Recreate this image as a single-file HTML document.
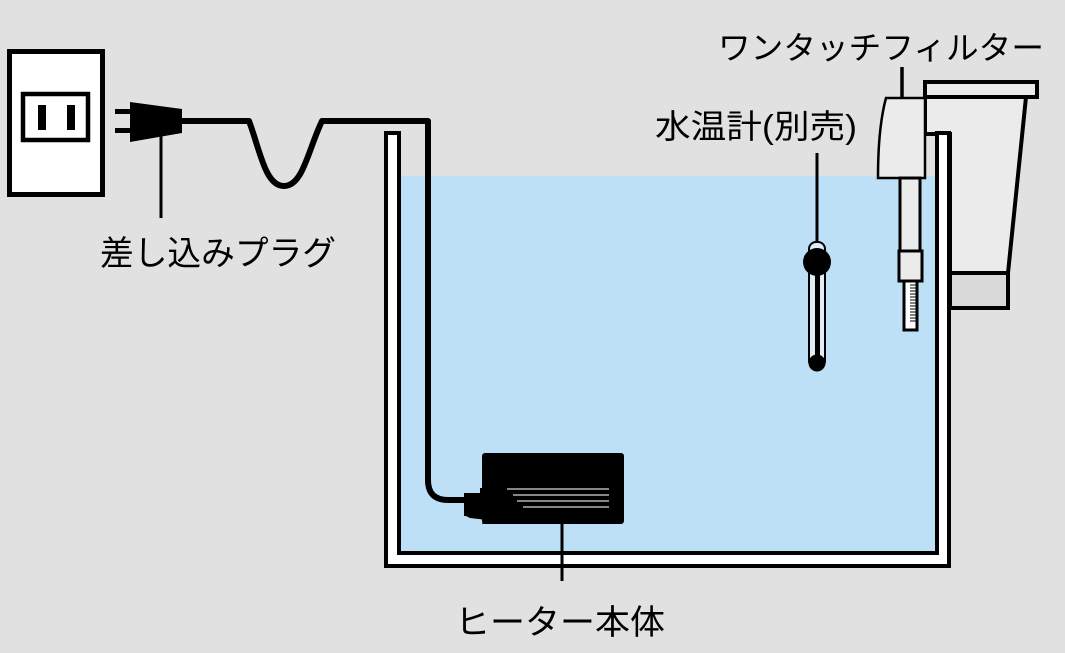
<!DOCTYPE html>
<html><head><meta charset="utf-8"><style>
html,body{margin:0;padding:0;background:#e1e1e1;}
svg{display:block;}
text{font-family:"Liberation Sans","Noto Sans CJK JP",sans-serif;fill:#000;}
</style></head><body>
<svg width="1065" height="653" viewBox="0 0 1065 653" xmlns="http://www.w3.org/2000/svg">
<rect width="1065" height="653" fill="#e1e1e1"/>
<!-- water -->
<rect x="399" y="176" width="538" height="378" fill="#bde0f7"/>
<!-- filter box -->
<polygon points="925,97 1026,97 1008,273 950,273 950,134 925,134" fill="#ebebeb" stroke="#000" stroke-width="4"/>
<rect x="950" y="273" width="58" height="35" fill="#d9d9d9" stroke="#000" stroke-width="4"/>
<rect x="925" y="82" width="112" height="15" fill="#ebebeb" stroke="#000" stroke-width="4"/>
<!-- tank walls -->
<polygon points="386,133 399,133 399,553 937,553 937,133 949,133 949,566 386,566" fill="#fff" stroke="#000" stroke-width="4"/>
<!-- outlet -->
<rect x="9.5" y="51.5" width="93" height="143" fill="#fff" stroke="#000" stroke-width="5"/>
<rect x="23" y="94" width="65" height="46" fill="#fff" stroke="#000" stroke-width="4.5"/>
<rect x="38" y="105" width="8" height="25" fill="#000"/>
<rect x="67" y="105" width="8" height="25" fill="#000"/>
<!-- plug -->
<rect x="115" y="109" width="17" height="5" fill="#000"/>
<rect x="115" y="128" width="17" height="5" fill="#000"/>
<polygon points="130,102 182,109 182,133 130,142" fill="#000"/>
<line x1="161" y1="135" x2="161" y2="218" stroke="#000" stroke-width="3"/>
<!-- cable -->
<path d="M180,121 L249,121 C260,150 265,186 284,186 C303,186 308,150 322,121 L428,121 L428,480 Q428,500 448,500 L470,500" fill="none" stroke="#000" stroke-width="6" stroke-linejoin="round"/>
<!-- heater -->
<rect x="482" y="453" width="142" height="71" rx="3" fill="#000"/>
<polygon points="466,493 480,493 480,488 500,488 500,498 520,518 520,524 470,518 466,516" fill="#000"/>
<rect x="464" y="493" width="20" height="23" fill="#000"/>
<rect x="480" y="489" width="40" height="29" fill="#000"/>
<polygon points="500,480 520,520 520,524 482,524" fill="#000"/>
<g stroke="#9a9a9a" stroke-width="1.8">
<line x1="507" y1="489" x2="609" y2="489"/>
<line x1="513" y1="495" x2="609" y2="495"/>
<line x1="517" y1="501" x2="609" y2="501"/>
<line x1="523" y1="507" x2="609" y2="507"/>
</g>
<line x1="562" y1="524" x2="562" y2="581" stroke="#000" stroke-width="3"/>
<!-- thermometer -->
<line x1="817" y1="153" x2="817" y2="244" stroke="#000" stroke-width="3"/>
<rect x="809" y="242" width="16" height="126" rx="7" fill="#ddeef9" stroke="#000" stroke-width="2"/>
<rect x="815" y="262" width="5" height="100" fill="#000"/>
<circle cx="817" cy="262" r="14" fill="#000"/>
<circle cx="817" cy="363" r="8.5" fill="#000"/>
<!-- filter head & tube -->
<line x1="902" y1="67" x2="902" y2="99" stroke="#000" stroke-width="3.5"/>
<path d="M886,98 L925,98 L925,178 L878,178 C878,150 880,120 886,98 Z" fill="#ebebeb" stroke="#000" stroke-width="2.5"/>
<rect x="900" y="178" width="20" height="74" fill="#ebebeb" stroke="#000" stroke-width="3"/>
<rect x="899" y="251" width="23" height="30" fill="#ebebeb" stroke="#000" stroke-width="3"/>
<rect x="904" y="281" width="13" height="49" fill="#fff" stroke="#000" stroke-width="3"/>
<g stroke="#000" stroke-width="1">
<line x1="910" y1="285" x2="916" y2="285"/><line x1="910" y1="288" x2="916" y2="288"/><line x1="910" y1="291" x2="916" y2="291"/><line x1="910" y1="294" x2="916" y2="294"/><line x1="910" y1="297" x2="916" y2="297"/><line x1="910" y1="300" x2="916" y2="300"/><line x1="910" y1="303" x2="916" y2="303"/><line x1="910" y1="306" x2="916" y2="306"/><line x1="910" y1="309" x2="916" y2="309"/><line x1="910" y1="312" x2="916" y2="312"/><line x1="910" y1="315" x2="916" y2="315"/><line x1="910" y1="318" x2="916" y2="318"/><line x1="910" y1="321" x2="916" y2="321"/>
</g>
<!-- labels -->
<text x="100" y="265" font-size="34" textLength="236" lengthAdjust="spacingAndGlyphs">差し込みプラグ</text>
<text x="455" y="634" font-size="34" textLength="210" lengthAdjust="spacingAndGlyphs">ヒーター本体</text>
<text x="655" y="138" font-size="33" textLength="202" lengthAdjust="spacingAndGlyphs">水温計(別売)</text>
<text x="718" y="59" font-size="32" textLength="326" lengthAdjust="spacingAndGlyphs">ワンタッチフィルター</text>
</svg>
</body></html>
